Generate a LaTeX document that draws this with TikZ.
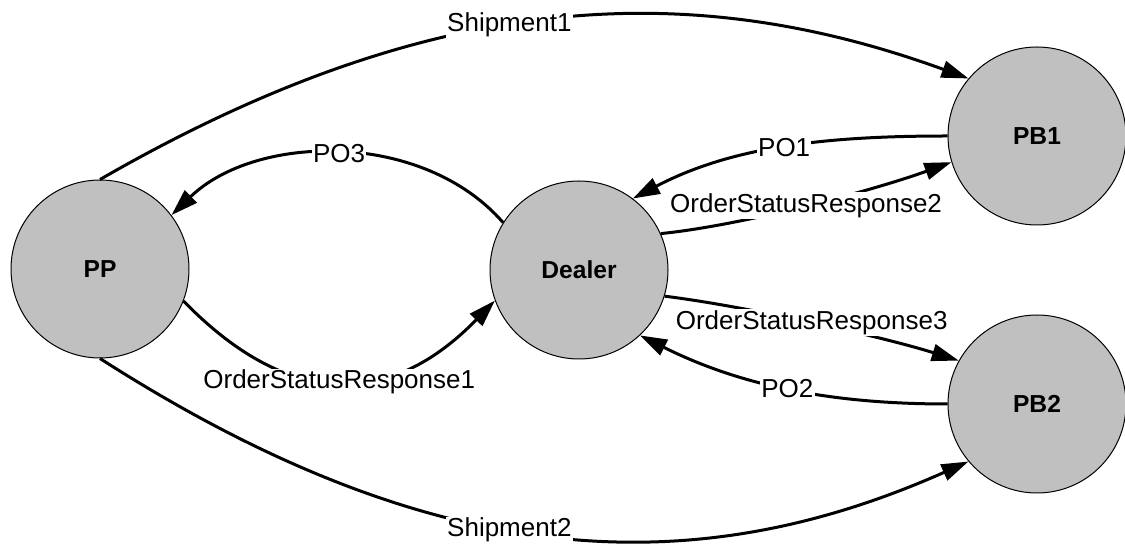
\documentclass[tikz,border=0pt]{standalone}
\usepackage{fontspec}
\setmainfont{Liberation Sans}
\usetikzlibrary{arrows.meta}
\definecolor{partygray}{RGB}{192,192,192}
\tikzset{
	party/.style={circle,draw,line width=0.5pt,fill=partygray,minimum size=89pt,inner sep=0pt,font=\fontsize{12.3}{14}\selectfont\bfseries},
	flow/.style={line width=1.5pt,-{Triangle[length=13.5pt,width=8.5pt]}},
	msg/.style={fill=white,inner sep=0.6pt,font=\fontsize{13}{15}\selectfont}
}
\begin{document}
\begin{tikzpicture}[x=0.5pt,y=-0.5pt]
			\useasboundingbox (0,0) rectangle (1125,544);
			%PARTIES
			\node[party] (PP) at (100,269) {PP};
			\node[party] (Dealer) at (579,270) {Dealer};
			\node[party] (PB1) at (1037,136) {PB1};
			\node[party] (PB2) at (1037,404) {PB2};
			%SHIPMENTS
			\draw[flow] (PP.90) .. controls +(340,-196) and +(-270,-98) .. node[msg,pos=0.44]{Shipment1} (PB1.140);
			\draw[flow] (PP.270) .. controls +(340,218) and +(-270,120) .. node[msg,pos=0.44]{Shipment2} (PB2.220);
			%PP - Dealer
			\draw[flow] (Dealer.148) .. controls +(-80,-92) and +(85,-82) .. node[msg]{PO3} (PP.37);
			\draw[flow] (PP.-21) .. controls +(105,108) and +(-105,108) .. node[msg]{OrderStatusResponse1} (Dealer.200);
			%Dealer - PB1, PB2
			\draw[flow] (PB1.180) .. controls +(-117,0) and +(101,-53) .. node[msg]{PO1} (Dealer.53);
			\draw[flow] (Dealer.24) .. controls +(80,-8) and +(-80,29) .. node[msg]{OrderStatusResponse2} (PB1.197);
			\draw[flow] (Dealer.-17) .. controls +(80,10) and +(-80,-25) .. node[msg]{OrderStatusResponse3} (PB2.151);
			\draw[flow] (PB2.180) .. controls +(-117,0) and +(100,50) .. node[msg]{PO2} (Dealer.-47);
			%	\draw[dashed] (Dealer) -- (PB1);
\end{tikzpicture}
\end{document}
